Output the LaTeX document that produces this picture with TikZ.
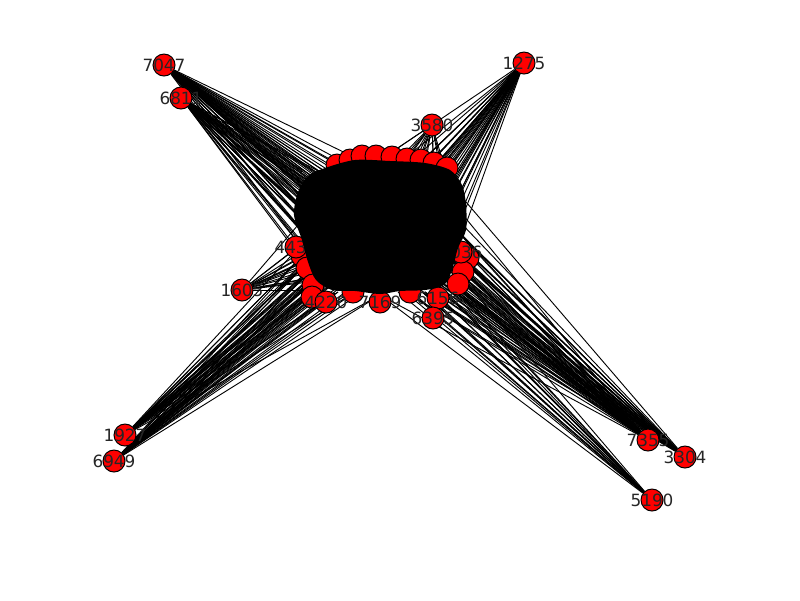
\documentclass[tikz,border=0pt]{standalone}
\usepackage{fontspec}
\setmainfont{DejaVu Sans}
\usetikzlibrary{positioning,backgrounds}
\definecolor{nodered}{HTML}{FF0000}

\tikzset{
  vertex/.style={circle,fill=nodered,draw=black,line width=0.7pt,
    minimum size=0.55cm,inner sep=0pt},
  every label/.style={font=\fontsize{12}{14}\selectfont,inner sep=0pt,text=black!85},
  edge/.style={black,line width=0.65pt}
}

\begin{document}
\begin{tikzpicture}[x=0.025cm,y=-0.025cm]

\useasboundingbox (0,0) rectangle (800,600);

% ===== CLUSTER ANCHOR POINTS =====
\coordinate (t1) at (320,172); \coordinate (t2) at (340,165);
\coordinate (t3) at (360,160); \coordinate (t4) at (380,160);
\coordinate (t5) at (400,162); \coordinate (t6) at (420,163);
\coordinate (t7) at (440,168); \coordinate (t8) at (455,178);
\coordinate (l1) at (305,185); \coordinate (l2) at (300,205);
\coordinate (l3) at (298,225); \coordinate (l4) at (300,245);
\coordinate (l5) at (304,262); \coordinate (l6) at (310,278);
\coordinate (b1) at (318,290); \coordinate (b2) at (335,293);
\coordinate (b3) at (355,292); \coordinate (b4) at (380,295);
\coordinate (b5) at (405,292); \coordinate (b6) at (425,292);
\coordinate (b7) at (445,285);
\coordinate (r1) at (460,195); \coordinate (r2) at (463,215);
\coordinate (r3) at (462,235); \coordinate (r4) at (458,255);
\coordinate (r5) at (455,270); \coordinate (r6) at (450,282);
\coordinate (m) at (380,228);
% inner grid
\foreach \i in {1,...,14}
  \foreach \j in {1,...,11}
    \coordinate (g-\i-\j) at ({290+12*\i},{160+12*\j});

% ===== CLUSTER RIM NODES =====
\foreach \px/\py in {337/165,350/160,362/156,376/156,392/157,407/159,
  421/160,434/163,447/168,302/256,307/268,313/285,312/297,353/292,
  410/292,468/258,463/272,458/284}
  \node[vertex] at (\px,\py) {};
\node[vertex,label={center:4436}] (p4436) at (296,247) {};
\node[vertex,label={center:4220}] (p4220) at (326,302) {};
\node[vertex,label={center:7169}] (p7169) at (380,302) {};
\node[vertex,label={center:4036}] (p4036) at (461,252) {};
\node[vertex,label={center:6156}] (p6156) at (438,298) {};

% Dense core
\fill[black] plot[smooth cycle] coordinates {
  (325,168) (355,160) (390,161) (425,163) (450,170) (462,185)
  (466,205) (466,230) (458,248) (452,270) (444,285) (425,290)
  (400,291) (380,294) (355,291) (332,290) (316,280) (308,262)
  (302,240) (294,215) (298,192) (308,176)};

\node[vertex,label={center:6395}] (p6395) at (433,318) {};

% ===== OUTER NODES =====
\node[vertex,label={center:7047}] (n7047) at (164,65) {};
\node[vertex,label={center:6811}] (n6811) at (181,98) {};
\node[vertex,label={center:1275}] (n1275) at (524,63) {};
\node[vertex,label={center:3580}] (n3580) at (432,125) {};
\node[vertex,label={center:1605}] (n1605) at (242,290) {};
\node[vertex,label={center:1927}] (n1927) at (125,435) {};
\node[vertex,label={center:6949}] (n6949) at (114,461) {};
\node[vertex,label={center:7355}] (n7355) at (648,440) {};
\node[vertex,label={center:3304}] (n3304) at (685,457) {};
\node[vertex,label={center:5190}] (n5190) at (652,500) {};

% ===== EDGES =====
\begin{scope}[on background layer]
\fill[white] (0,0) rectangle (800,600);
% rim edges
\foreach \src/\dsts in {
  n7047/{l1,l2,l3,l4,t1,t2,t3,m},
  n6811/{l1,l2,l3,l4,l5,t1,m},
  n1275/{t4,t5,t6,t7,t8,r1,r2,r3,m},
  n3580/{t4,t5,t6,t7},
  n1605/{l3,l4,l5,l6,b1,m},
  n1927/{l5,l6,b1,b2,b3,b4,m},
  n6949/{l5,l6,b1,b2,b3,b4,m},
  n7355/{r2,r3,r4,r5,r6,b4,b5,b6,b7,m},
  n3304/{r1,r3,r4,r5,r6,b5,b6,b7,m},
  n5190/{r5,r6,b4,b5,b6,b7,m}}
  \foreach \dst in \dsts
    \draw[edge] (\src) -- (\dst);
% bundles into the core
\foreach \src/\ia/\ib/\ja/\jb in {
  n7047/1/6/1/6, n6811/1/4/2/8, n1275/9/14/1/5,
  n3580/8/13/1/2, n1605/1/3/7/10, n1927/1/4/7/11,
  n6949/1/6/8/11, n7355/11/14/6/11, n3304/11/14/5/11,
  n5190/9/13/10/11}
  \foreach \i in {\ia,...,\ib}
    \foreach \j in {\ja,...,\jb}
      \draw[edge] (\src) -- (g-\i-\j);
\end{scope}

\end{tikzpicture}
\end{document}
